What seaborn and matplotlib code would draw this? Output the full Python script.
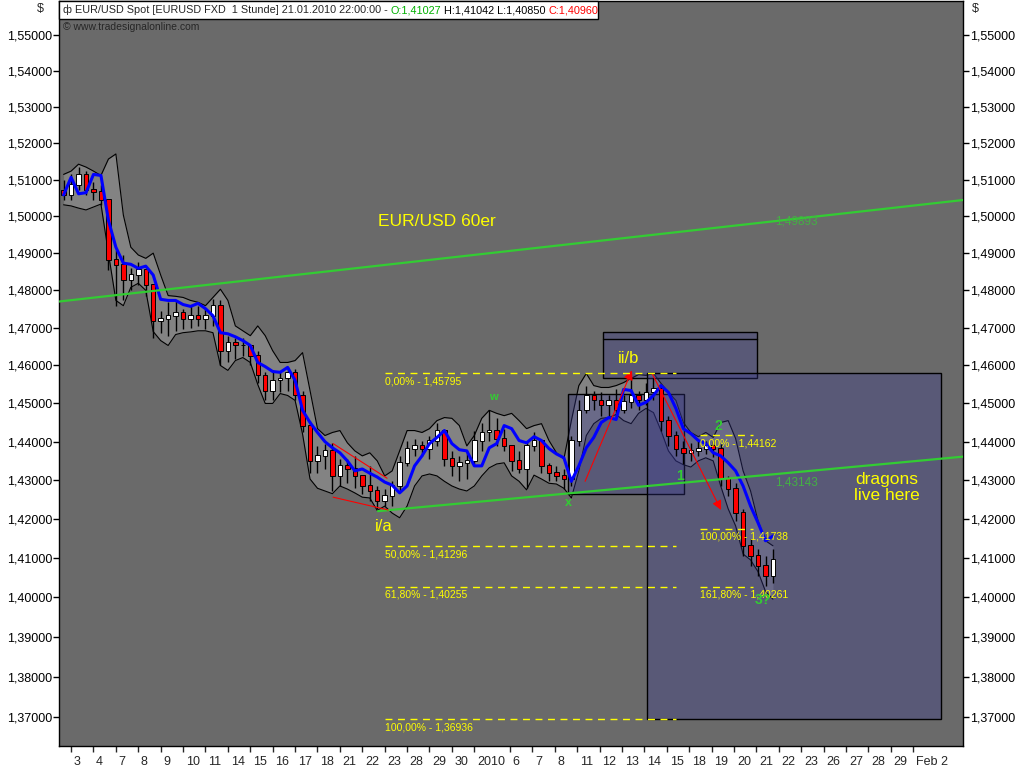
"""
EUR/USD Spot, 1 hour chart (21.01.2010) redrawn with seaborn / matplotlib.
Values are read off the original screenshot (8h candles instead of 1h).
"""
import numpy as np
import matplotlib
matplotlib.use("Agg")
import matplotlib.pyplot as plt
import matplotlib.ticker as mticker
import matplotlib.transforms as mtransforms
from matplotlib.patches import Rectangle
import seaborn as sns

# ============================
# Data
# ============================
first_open = 1.5070
highs = [1.5100, 1.5114, 1.5134, 1.5123, 1.5094, 1.5086, 1.5044, 1.4908, 1.4895, 1.4859,
         1.4876, 1.4854, 1.4814, 1.4746, 1.4768, 1.4773, 1.4751, 1.4759, 1.4759, 1.4751,
         1.4778, 1.4773, 1.4679, 1.4674, 1.4674, 1.4653, 1.4639, 1.4582, 1.4587, 1.4582,
         1.4597, 1.4592, 1.4534, 1.4455, 1.4389, 1.4395, 1.4397, 1.4355, 1.4355, 1.4363,
         1.4311, 1.4337, 1.4285, 1.4277, 1.4297, 1.4363, 1.4403, 1.4408, 1.4403, 1.4416,
         1.4450, 1.4434, 1.4376, 1.4363, 1.4376, 1.4429, 1.4450, 1.4482, 1.4461, 1.4434,
         1.4389, 1.4376, 1.4403, 1.4424, 1.4403, 1.4345, 1.4337, 1.4329, 1.4416, 1.4508,
         1.4547, 1.4534, 1.4529, 1.4521, 1.4539, 1.4521, 1.4568, 1.4534, 1.4555, 1.4566,
         1.4545, 1.4468, 1.4429, 1.4403, 1.4397, 1.4403, 1.4403, 1.4403, 1.4395, 1.4311,
         1.4292, 1.4226, 1.4149, 1.4123, 1.4105, 1.4123]
lows = [1.5044, 1.5044, 1.5072, 1.5058, 1.5044, 1.5031, 1.4854, 1.4759, 1.4773, 1.4800,
        1.4814, 1.4786, 1.4674, 1.4687, 1.4679, 1.4692, 1.4697, 1.4700, 1.4705, 1.4697,
        1.4705, 1.4600, 1.4608, 1.4618, 1.4626, 1.4600, 1.4555, 1.4508, 1.4508, 1.4529,
        1.4534, 1.4508, 1.4424, 1.4318, 1.4318, 1.4329, 1.4272, 1.4285, 1.4292, 1.4279,
        1.4264, 1.4246, 1.4226, 1.4233, 1.4233, 1.4272, 1.4337, 1.4363, 1.4363, 1.4355,
        1.4389, 1.4337, 1.4311, 1.4297, 1.4303, 1.4337, 1.4376, 1.4403, 1.4389, 1.4376,
        1.4324, 1.4318, 1.4279, 1.4376, 1.4318, 1.4297, 1.4297, 1.4277, 1.4285, 1.4389,
        1.4476, 1.4482, 1.4468, 1.4463, 1.4468, 1.4474, 1.4487, 1.4482, 1.4495, 1.4508,
        1.4429, 1.4389, 1.4363, 1.4342, 1.4350, 1.4363, 1.4368, 1.4361, 1.4285, 1.4259,
        1.4195, 1.4105, 1.4079, 1.4054, 1.4028, 1.4036]
closes = [1.5058, 1.5086, 1.5114, 1.5072, 1.5067, 1.5044, 1.4881, 1.4868, 1.4827, 1.4841,
          1.4854, 1.4814, 1.4719, 1.4724, 1.4732, 1.4741, 1.4724, 1.4732, 1.4724, 1.4732,
          1.4759, 1.4639, 1.4661, 1.4653, 1.4653, 1.4626, 1.4574, 1.4534, 1.4561, 1.4566,
          1.4582, 1.4521, 1.4442, 1.4350, 1.4363, 1.4376, 1.4311, 1.4337, 1.4329, 1.4311,
          1.4285, 1.4272, 1.4246, 1.4259, 1.4285, 1.4345, 1.4382, 1.4389, 1.4382, 1.4403,
          1.4429, 1.4355, 1.4337, 1.4345, 1.4350, 1.4403, 1.4424, 1.4429, 1.4408, 1.4389,
          1.4350, 1.4329, 1.4389, 1.4403, 1.4337, 1.4318, 1.4311, 1.4303, 1.4403, 1.4482,
          1.4521, 1.4508, 1.4495, 1.4508, 1.4482, 1.4505, 1.4521, 1.4508, 1.4529, 1.4539,
          1.4455, 1.4416, 1.4382, 1.4371, 1.4376, 1.4382, 1.4389, 1.4382, 1.4303, 1.4277,
          1.4215, 1.4131, 1.4105, 1.4079, 1.4054, 1.4096]

ma_blue = [1.5058, 1.5106, 1.5061, 1.5064, 1.5114, 1.5111, 1.4989, 1.4916, 1.4873, 1.4870,
           1.4859, 1.4865, 1.4841, 1.4776, 1.4773, 1.4773, 1.4762, 1.4757, 1.4765, 1.4751,
           1.4732, 1.4687, 1.4684, 1.4676, 1.4666, 1.4653, 1.4608, 1.4597, 1.4584, 1.4582,
           1.4595, 1.4561, 1.4482, 1.4450, 1.4424, 1.4400, 1.4384, 1.4371, 1.4350, 1.4324,
           1.4329, 1.4318, 1.4308, 1.4295, 1.4287, 1.4267, 1.4285, 1.4337, 1.4363, 1.4395,
           1.4411, 1.4429, 1.4395, 1.4379, 1.4376, 1.4337, 1.4337, 1.4384, 1.4395, 1.4442,
           1.4434, 1.4403, 1.4397, 1.4413, 1.4403, 1.4382, 1.4368, 1.4358, 1.4297, 1.4337,
           1.4384, 1.4411, 1.4450, 1.4463, 1.4458, 1.4537, 1.4534, 1.4495, 1.4503, 1.4521,
           1.4547, 1.4529, 1.4487, 1.4434, 1.4421, 1.4403, 1.4395, 1.4371, 1.4363, 1.4345,
           1.4324, 1.4285, 1.4233, 1.4190, 1.4144, 1.4156]

band_upper = [1.5114, 1.5123, 1.5142, 1.5134, 1.5123, 1.5111, 1.5156, 1.5170, 1.5003, 1.4916,
              1.4895, 1.4886, 1.4900, 1.4841, 1.4786, 1.4784, 1.4781, 1.4773, 1.4768, 1.4759,
              1.4781, 1.4803, 1.4773, 1.4705, 1.4692, 1.4679, 1.4705, 1.4679, 1.4639, 1.4608,
              1.4608, 1.4613, 1.4634, 1.4534, 1.4434, 1.4416, 1.4424, 1.4429, 1.4397, 1.4376,
              1.4363, 1.4371, 1.4350, 1.4311, 1.4324, 1.4376, 1.4429, 1.4429, 1.4424, 1.4434,
              1.4455, 1.4463, 1.4461, 1.4442, 1.4389, 1.4416, 1.4461, 1.4482, 1.4474, 1.4468,
              1.4474, 1.4455, 1.4434, 1.4442, 1.4447, 1.4403, 1.4371, 1.4355, 1.4455, 1.4547,
              1.4579, 1.4547, 1.4542, 1.4542, 1.4547, 1.4555, 1.4566, 1.4576, 1.4574, 1.4579,
              1.4553, 1.4529, 1.4508, 1.4450, 1.4424, 1.4413, 1.4424, 1.4411, 1.4450, 1.4455,
              1.4408, 1.4324, 1.4272, 1.4195, 1.4144, 1.4131]
band_lower = [1.5031, 1.5028, 1.5022, 1.5017, 1.5025, 1.5033, 1.4900, 1.4773, 1.4759, 1.4808,
              1.4819, 1.4800, 1.4690, 1.4666, 1.4653, 1.4682, 1.4687, 1.4689, 1.4692, 1.4692,
              1.4687, 1.4600, 1.4587, 1.4613, 1.4621, 1.4608, 1.4550, 1.4500, 1.4500, 1.4526,
              1.4521, 1.4508, 1.4420, 1.4303, 1.4279, 1.4272, 1.4265, 1.4285, 1.4277, 1.4267,
              1.4256, 1.4254, 1.4222, 1.4233, 1.4215, 1.4203, 1.4233, 1.4285, 1.4311, 1.4316,
              1.4311, 1.4297, 1.4285, 1.4277, 1.4272, 1.4285, 1.4311, 1.4332, 1.4342, 1.4345,
              1.4311, 1.4297, 1.4275, 1.4313, 1.4303, 1.4292, 1.4290, 1.4279, 1.4254, 1.4324,
              1.4416, 1.4447, 1.4461, 1.4463, 1.4471, 1.4455, 1.4447, 1.4474, 1.4487, 1.4476,
              1.4429, 1.4376, 1.4350, 1.4340, 1.4334, 1.4350, 1.4358, 1.4350, 1.4285, 1.4226,
              1.4182, 1.4110, 1.4095, 1.4065, 1.4015, 1.3995]

# x axis: trading-day slots with their labels
day_ticks = [0, 1, 2, 3, 4, 5, 6, 7, 8, 9, 10, 11, 12, 13, 14, 15, 16, 17, 18,
             19.6, 20.6, 21.6, 22.6, 23.6, 24.6, 25.6, 26.6, 27.6, 28.6, 29.6,
             30.6, 31.6, 32.6, 33.6, 34.6, 35.6, 36.6, 37.6]
day_labels = ["3", "4", "7", "8", "9", "10", "11", "14", "15", "16", "17", "18",
              "21", "22", "23", "28", "29", "30", "2010",
              "6", "7", "8", "11", "12", "13", "14", "15", "18", "19", "20",
              "21", "22", "23", "26", "27", "28", "29", "Feb 2"]
price_ticks = [1.37, 1.38, 1.39, 1.40, 1.41, 1.42, 1.43, 1.44, 1.45,
               1.46, 1.47, 1.48, 1.49, 1.50, 1.51, 1.52, 1.53, 1.54, 1.55]

# trend lines (x in day slots, y in price)
trend_upper_x = [-0.54, 39.82]
trend_upper_y = [1.4770, 1.5044]
trend_lower_x = [13.70, 39.82]
trend_lower_y = [1.4220, 1.4361]

# red helper lines and arrows
red_lines = [((11.70, 1.4395), (14.11, 1.4305)),
             ((11.70, 1.4256), (14.16, 1.4223))]
red_arrows = [((22.95, 1.4297), (25.04, 1.4587)),
              ((25.94, 1.4579), (29.02, 1.4223))]

# fibonacci levels
fib1_levels = [1.45795, 1.41296, 1.40255, 1.36936]
fib1_labels = ["0,00% - 1,45795", "50,00% - 1,41296", "61,80% - 1,40255", "100,00% - 1,36936"]
fib1_span = (14.02, 27.0)
fib2_levels = [1.44162, 1.41738, 1.40261]
fib2_labels = ["0,00% - 1,44162", "100,00% - 1,41738", "161,80% - 1,40261"]
fib2_span = (28.08, 30.45)

# rectangles: (x0, x1, y0, y1)
boxes = [(22.19, 27.37, 1.4264, 1.4524),
         (23.75, 30.63, 1.4566, 1.4689),
         (25.71, 38.84, 1.36936, 1.45795)]
box_b_inner = 1.4671

# ============================
# Style
# ============================
sns.set_style("ticks")
plt.rcParams["font.family"] = ["Liberation Sans", "DejaVu Sans"]

BG = "#6a6a6a"
BAND = "#838383"
GREEN = "#33cc33"
YELLOW = "#ffff00"
RED = "#ff0000"

fig = plt.figure(figsize=(10.24, 7.68), dpi=100)
ax = fig.add_axes([59 / 1024, 22 / 768, 904 / 1024, 745 / 768])
ax.set_facecolor(BG)

t = np.arange(len(closes)) / 3 - 0.33
opens = np.r_[first_open, closes[:-1]]
closes_a = np.array(closes)

# envelope
ax.fill_between(t, band_lower, band_upper, color=BAND, lw=0, zorder=1)
ax.plot(t, band_upper, color="black", lw=0.8, zorder=1.5)
ax.plot(t, band_lower, color="black", lw=0.8, zorder=1.5)

# boxes
for x0, x1, y0, y1 in boxes:
    ax.add_patch(Rectangle((x0, y0), x1 - x0, y1 - y0, facecolor=(0.22, 0.22, 0.58, 0.33),
                           edgecolor="black", lw=1, zorder=2))
ax.plot([boxes[1][0], boxes[1][1]], [box_b_inner, box_b_inner], color="black", lw=1, zorder=2)

# candles
ax.vlines(t, lows, highs, color="black", lw=1, zorder=3)
up = closes_a >= opens
body_lo = np.minimum(opens, closes_a)
body_h = np.abs(closes_a - opens) + 0.0002
ax.bar(t, body_h, bottom=body_lo, width=0.2,
       color=np.where(up, "white", RED), edgecolor="black", lw=0.7, zorder=3.2)

# blue average
sns.lineplot(x=t, y=ma_blue, ax=ax, color="#0000ff", lw=2.2, sort=False,
             estimator=None, zorder=4)

# trend lines
sns.lineplot(x=trend_upper_x, y=trend_upper_y, ax=ax, color=GREEN, lw=1.6, zorder=5)
sns.lineplot(x=trend_lower_x, y=trend_lower_y, ax=ax, color=GREEN, lw=1.6, zorder=5)
ax.text(31.43, 1.4986, "1,49893", color="#44b044", fontsize=8.5, va="center", zorder=6)
ax.text(31.43, 1.4295, "1,43143", color="#44b044", fontsize=8.5, va="center", zorder=6)

# red lines / arrows
for (xa, ya), (xb, yb) in red_lines:
    ax.plot([xa, xb], [ya, yb], color=RED, lw=0.8, zorder=5)
for (xa, ya), (xb, yb) in red_arrows:
    ax.annotate("", xy=(xb, yb), xytext=(xa, ya), zorder=5,
                arrowprops=dict(arrowstyle="-|>", color=RED, lw=0.8,
                                mutation_scale=14, shrinkA=0, shrinkB=0))

# fibonacci
for levels, labels, (xa, xb) in [(fib1_levels, fib1_labels, fib1_span),
                                 (fib2_levels, fib2_labels, fib2_span)]:
    for lv, lab in zip(levels, labels):
        ax.plot([xa, xb], [lv, lv], color=YELLOW, lw=1, ls=(0, (5, 4)), zorder=5)
        ax.annotate(lab, xy=(xa, lv), xytext=(0, -2), textcoords="offset points",
                    color=YELLOW, fontsize=7.5, va="top", ha="left", zorder=6)

# annotations
ax.text(16.34, 1.4985, "EUR/USD 60er", color=YELLOW, fontsize=12.5, ha="center", va="center", zorder=6)
ax.text(24.42, 1.4618, "ii/b", color=YELLOW, fontsize=12, ha="left", va="center", zorder=6)
ax.text(13.57, 1.4180, "i/a", color=YELLOW, fontsize=12, ha="left", va="center", zorder=6)
ax.text(36.43, 1.4280, "dragons\nlive here", color=YELLOW, fontsize=12.5, ha="center",
        va="center", linespacing=1.1, zorder=6)
for x, y, s, fs in [(18.84, 1.4516, "w", 8), (22.19, 1.4241, "x", 9),
                    (27.19, 1.4310, "1", 10), (28.88, 1.4442, "2", 10),
                    (30.89, 1.3992, "3?", 10)]:
    ax.text(x, y, s, color=GREEN, fontsize=fs, ha="center", va="center",
            fontweight="bold", zorder=6)

# ============================
# Axes
# ============================
ax.set_yscale("log")
ax.set_ylim(1.3628, 1.5596)
ax.set_xlim(-0.536, 39.82)
ax.yaxis.set_major_locator(mticker.FixedLocator(price_ticks))
ax.yaxis.set_minor_locator(mticker.NullLocator())
ax.yaxis.set_major_formatter(mticker.FuncFormatter(lambda v, _: f"{v:.5f}".replace(".", ",")))
ax.tick_params(axis="y", which="both", left=True, right=True, labelleft=True,
               labelright=True, length=4, width=1, pad=1, labelsize=9, colors="black")
ax.set_xticks(day_ticks)
ax.set_xticklabels(day_labels)
ax.tick_params(axis="x", length=4, width=1, pad=3, labelsize=9)
shift = mtransforms.ScaledTranslation(2 / 72, 0, fig.dpi_scale_trans)
for lab in ax.get_xticklabels():
    lab.set_horizontalalignment("left")
    lab.set_transform(lab.get_transform() + shift)
for sp in ax.spines.values():
    sp.set_color("black")
    sp.set_linewidth(1)
ax.set_xlabel("")
ax.set_ylabel("")

# header
fig.text(40 / 1024, 1 - 9 / 768, "$", fontsize=9, ha="center", va="center")
fig.text(975 / 1024, 1 - 9 / 768, "$", fontsize=9, ha="center", va="center")
ax.add_patch(Rectangle((0, 1 - 18 / 745), (598 - 59) / 904, 18 / 745, transform=ax.transAxes,
                       facecolor="white", edgecolor="black", lw=1, zorder=6.5, clip_on=False))
hdr = ax.text(0.004, 1 - 9 / 745, "ф EUR/USD Spot [EURUSD FXD  1 Stunde] 21.01.2010 22:00:00 - ",
              transform=ax.transAxes, fontsize=7.8, va="center", ha="left", zorder=7)
parts = [("O:1,41027", "#00b000"), (" H:1,41042 L:1,40850 ", "black"), ("C:1,40960", RED)]
prev = hdr
for s, c in parts:
    prev = ax.annotate(s, xy=(1, 0), xycoords=prev, va="bottom", ha="left",
                       fontsize=7.8, color=c, zorder=7)
ax.text(0.004, 1 - 26 / 745, "© www.tradesignalonline.com", transform=ax.transAxes,
        fontsize=7.5, va="center", ha="left", zorder=7)

fig.savefig("out.png", dpi=100, facecolor="white")
